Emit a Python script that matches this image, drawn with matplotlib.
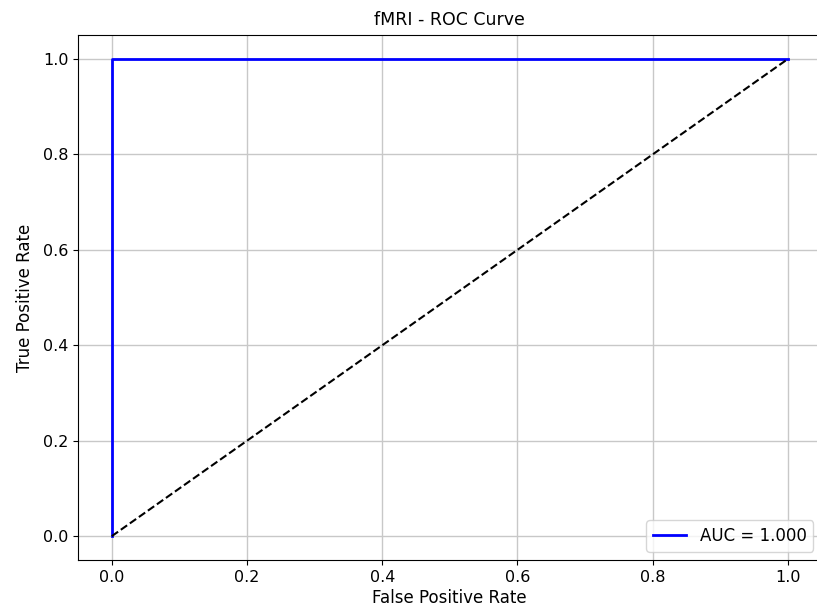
import matplotlib
matplotlib.use("Agg")
import matplotlib.pyplot as plt

# ROC points
fpr = [0.0, 0.0, 1.0]
tpr = [0.0, 1.0, 1.0]
auc_value = 1.000
chance_x = [0, 1]
chance_y = [0, 1]

fig = plt.figure(figsize=(8.17, 6.09), dpi=100)
# axes spans slightly past the right edge (reference image is cropped there)
ax = fig.add_axes([78 / 817, 1 - 560 / 609, 743.6 / 817, 524.8 / 609])

ax.plot(fpr, tpr, color="blue", lw=2, label=f"AUC = {auc_value:.3f}")
ax.plot(chance_x, chance_y, "k--", lw=1.5)
ax.set_xlim(-0.05, 1.05)
ax.set_ylim(-0.05, 1.05)
ax.set_xlabel("False Positive Rate", fontsize=12, labelpad=3)
ax.set_ylabel("True Positive Rate", fontsize=12, labelpad=6)
ax.set_title("fMRI - ROC Curve", fontsize=12.5, pad=7)
ax.tick_params(labelsize=11.5)
ax.grid(True, color="#c8c8c8", lw=1)
ax.legend(loc="lower right", fontsize=12)

fig.savefig("out.png", dpi=100)
